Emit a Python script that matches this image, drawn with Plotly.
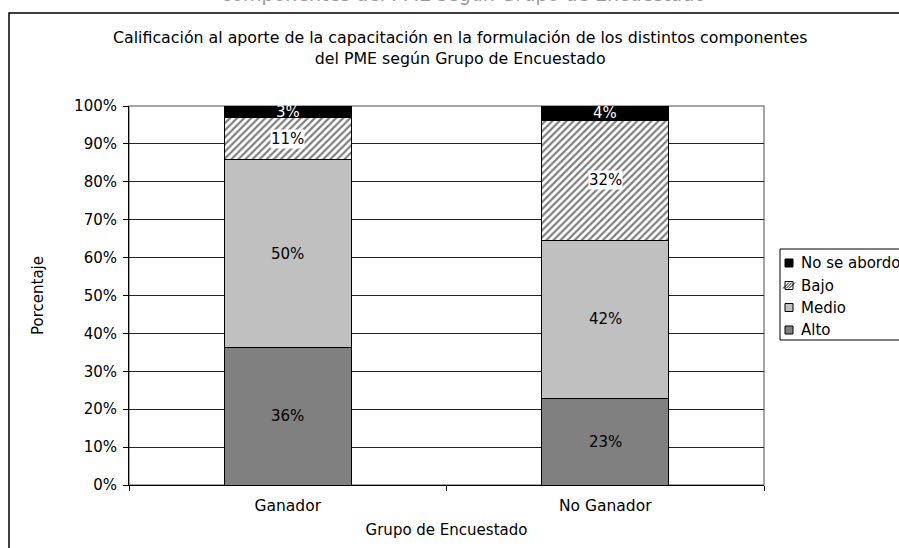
import plotly.graph_objects as go

categories = ["Ganador", "No Ganador"]
series_names = ["Alto", "Medio", "Bajo", "No se abordo"]
alto = [36.2, 22.8]
medio = [49.6, 41.8]
bajo = [11.2, 31.6]
no_se_abordo = [3.0, 3.8]
y_ticks = [0, 10, 20, 30, 40, 50, 60, 70, 80, 90, 100]
y_tick_labels = [f"{v}%" for v in y_ticks]

FONT = "Verdana, DejaVu Sans, sans-serif"
L, R, T, B = 129, 764, 106, 485
W, H = R - L, B - T


def px(x):
    return (x - L) / W


def py(y):
    return (B - y) / H


fig = go.Figure()

series = [alto, medio, bajo, no_se_abordo]
fills = ["#808080", "#C0C0C0", "white", "black"]
styles = [
    dict(color=fills[0]),
    dict(color=fills[1]),
    dict(color="white", pattern=dict(shape="/", fgcolor="black", bgcolor="white", size=5, solidity=0.45)),
    dict(color=fills[3]),
]
for name, vals, st in zip(series_names, series, styles):
    fig.add_trace(go.Bar(
        x=categories, y=vals, name=name,
        marker=dict(line=dict(color="black", width=1), **st),
        width=0.4, showlegend=False,
    ))

annotations = []
for i, cat in enumerate(categories):
    base = 0
    for k, vals in enumerate(series):
        v = vals[i]
        mid = base + v / 2
        base += v
        txt = f"{round(v)}%"
        a = dict(x=cat, y=mid, text=txt, showarrow=False,
                 font=dict(color="black", size=15, family=FONT))
        if k == 3:
            a["font"]["color"] = "white"
        elif k == 2:
            a["bgcolor"] = "white"
            a["borderpad"] = 0
        annotations.append(a)

annotations.append(dict(xref="paper", yref="paper", x=px(463), y=py(7.5),
                        text="componentes del PME según Grupo de Encuestado", showarrow=False,
                        font=dict(color="#9a9a9a", size=19, family=FONT), xanchor="center", yanchor="bottom"))

annotations.append(dict(xref="paper", yref="paper", x=px(460), y=py(47.5),
                        text="Calificación al aporte de la capacitación en la formulación de los distintos componentes<br>del PME según Grupo de Encuestado",
                        showarrow=False, align="center", xanchor="center", yanchor="middle",
                        font=dict(color="black", size=15.8, family=FONT)))

shapes = [
    dict(type="rect", xref="paper", yref="paper",
         x0=px(9), x1=px(960), y0=py(600), y1=py(13),
         line=dict(color="black", width=1.5), layer="below"),
    dict(type="rect", xref="paper", yref="paper", x0=0, x1=1, y0=0, y1=1,
         line=dict(color="#888888", width=1.5), layer="below"),
    dict(type="rect", xref="paper", yref="paper", x0=px(780), x1=px(960), y0=py(340), y1=py(249),
         line=dict(color="black", width=1), fillcolor="white"),
]
legend_y = [263, 285.5, 307.5, 330]
for name, fill, yc in zip(series_names[::-1], fills[::-1], legend_y):
    shapes.append(dict(type="rect", xref="paper", yref="paper", x0=px(785), x1=px(793),
                       y0=py(yc + 4), y1=py(yc - 4), line=dict(color="black", width=1), fillcolor=fill))
    if name == "Bajo":
        for d in (-3, 0, 3):
            shapes.append(dict(type="line", xref="paper", yref="paper",
                               x0=px(789 + d - 3), x1=px(789 + d + 3), y0=py(yc + 3), y1=py(yc - 3),
                               line=dict(color="black", width=1)))
    annotations.append(dict(xref="paper", yref="paper", x=px(799), y=py(yc), text=name, showarrow=False,
                            xanchor="left", yanchor="middle", font=dict(color="black", size=15, family=FONT)))

fig.update_layout(
    barmode="stack",
    width=899, height=548,
    margin=dict(l=L, r=899 - R, t=T, b=548 - B, autoexpand=False),
    paper_bgcolor="white", plot_bgcolor="white",
    font=dict(family=FONT, size=15, color="black"),
    annotations=annotations,
    shapes=shapes,
    showlegend=False,
)
fig.update_xaxes(showline=True, linecolor="black", linewidth=1, ticks="outside", ticklen=5,
                 tickson="boundaries", tickcolor="black", ticklabelstandoff=6,
                 title=dict(text="Grupo de Encuestado", standoff=10, font=dict(size=15)),
                 tickfont=dict(size=15.5), showgrid=False)
fig.update_yaxes(range=[0, 100], tickvals=y_ticks, ticktext=y_tick_labels, showline=True,
                 linecolor="black", linewidth=1, ticks="outside", ticklen=5, tickcolor="black",
                 ticklabelstandoff=3,
                 showgrid=True, gridcolor="#222222", gridwidth=1, zeroline=False,
                 title=dict(text="Porcentaje", standoff=26, font=dict(size=15)), tickfont=dict(size=15))

fig.write_html("out.html", config={"displayModeBar": False},
               post_script="document.body.style.margin='0px';")
